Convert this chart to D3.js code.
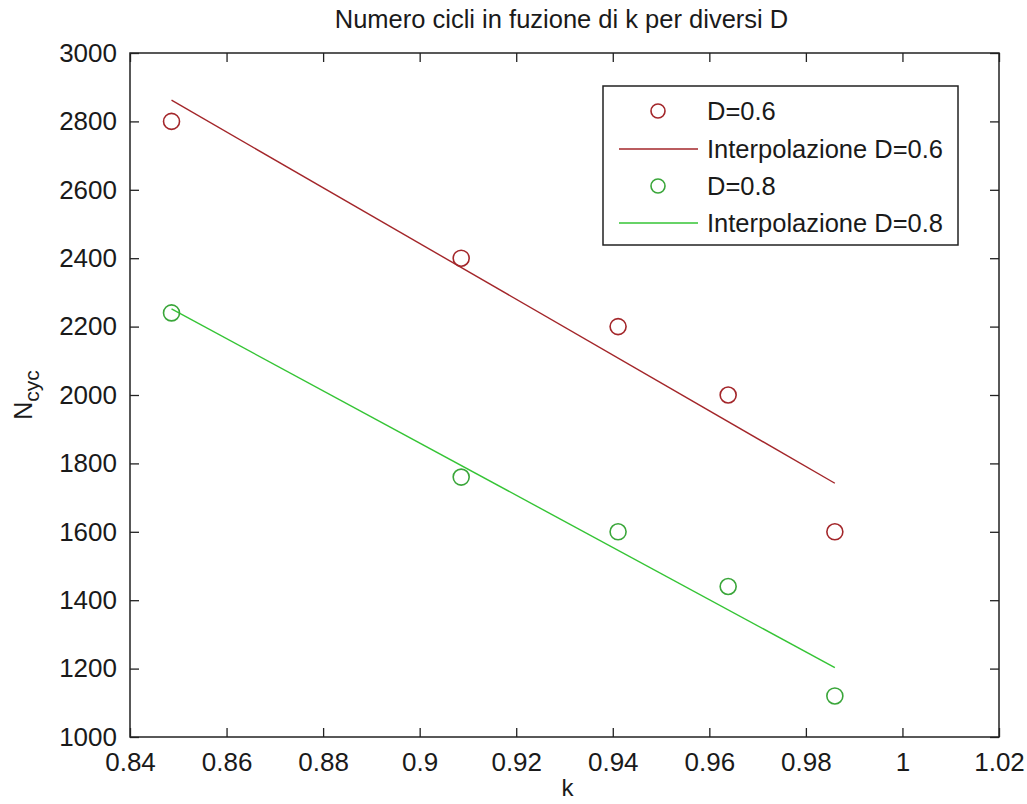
<!DOCTYPE html>
<html>
<head>
<meta charset="utf-8">
<script src="https://cdn.jsdelivr.net/npm/d3@7"></script>
<style>
  html, body { margin: 0; padding: 0; background: #fff; }
  svg { display: block; }
  text { font-family: "Liberation Sans", Arial, sans-serif; fill: #1a1a1a; }
</style>
</head>
<body>
<svg id="chart" width="1027" height="804"></svg>
<script>
// Measured cycle counts versus k for two values of D
const kValues = [0.8486, 0.9086, 0.9411, 0.9639, 0.9860];
const cyclesD06 = [2800, 2400, 2200, 2000, 1600];
const cyclesD08 = [2240, 1760, 1600, 1440, 1120];

// Linear interpolation lines: values at the first and last k
const fitK = [0.8486, 0.9860];
const fitD06 = [2862, 1742];
const fitD08 = [2252, 1203];

const xTicks = [0.84, 0.86, 0.88, 0.9, 0.92, 0.94, 0.96, 0.98, 1, 1.02];
const yTicks = [1000, 1200, 1400, 1600, 1800, 2000, 2200, 2400, 2600, 2800, 3000];

const legendLabels = ["D=0.6", "Interpolazione D=0.6", "D=0.8", "Interpolazione D=0.8"];

const red = "#a3262a";
const green = "#35c435";
const greenMarker = "#3aa63a";

const svg = d3.select("#chart");
const plotLeft = 130, plotRight = 999, plotTop = 53, plotBottom = 737;

const x = d3.scaleLinear().domain([0.84, 1.02]).range([plotLeft, plotRight]);
const y = d3.scaleLinear().domain([1000, 3000]).range([plotBottom, plotTop]);

const axisColor = "#222";
const tickLen = 9;
const fmtX = d => String(+d.toFixed(2));

// Frame
svg.append("rect")
  .attr("x", plotLeft).attr("y", plotTop)
  .attr("width", plotRight - plotLeft).attr("height", plotBottom - plotTop)
  .attr("fill", "#fff").attr("stroke", axisColor).attr("stroke-width", 1.5);

// Bottom axis with labels, inward ticks
const xAxis = d3.axisBottom(x).tickValues(xTicks).tickFormat(fmtX)
  .tickSizeInner(-tickLen).tickSizeOuter(0).tickPadding(16);
const gx = svg.append("g").attr("transform", `translate(0,${plotBottom})`).call(xAxis);
gx.select(".domain").remove();
gx.selectAll("line").attr("stroke", axisColor).attr("stroke-width", 1.3);
gx.selectAll("text").attr("font-size", 26).style("fill", "#1a1a1a")
  .attr("font-family", '"Liberation Sans", Arial, sans-serif');

// Top mirrored ticks
const gxt = svg.append("g").attr("transform", `translate(0,${plotTop})`)
  .call(d3.axisTop(x).tickValues(xTicks).tickFormat("").tickSizeInner(-tickLen).tickSizeOuter(0));
gxt.select(".domain").remove();
gxt.selectAll("line").attr("stroke", axisColor).attr("stroke-width", 1.3);

// Left axis with labels
const yAxis = d3.axisLeft(y).tickValues(yTicks).tickFormat(d3.format("d"))
  .tickSizeInner(-tickLen).tickSizeOuter(0).tickPadding(13);
const gy = svg.append("g").attr("transform", `translate(${plotLeft},0)`).call(yAxis);
gy.select(".domain").remove();
gy.selectAll("line").attr("stroke", axisColor).attr("stroke-width", 1.3);
gy.selectAll("text").attr("font-size", 26).style("fill", "#1a1a1a")
  .attr("font-family", '"Liberation Sans", Arial, sans-serif');

// Right mirrored ticks
const gyr = svg.append("g").attr("transform", `translate(${plotRight},0)`)
  .call(d3.axisRight(y).tickValues(yTicks).tickFormat("").tickSizeInner(-tickLen).tickSizeOuter(0));
gyr.select(".domain").remove();
gyr.selectAll("line").attr("stroke", axisColor).attr("stroke-width", 1.3);

// Fit lines
const line = d3.line().x(d => x(d[0])).y(d => y(d[1]));
svg.append("path").datum(d3.zip(fitK, fitD06))
  .attr("d", line).attr("fill", "none").attr("stroke", red).attr("stroke-width", 1.4);
svg.append("path").datum(d3.zip(fitK, fitD08))
  .attr("d", line).attr("fill", "none").attr("stroke", green).attr("stroke-width", 1.4);

// Data markers
function markers(vals, color) {
  svg.append("g").selectAll("circle").data(d3.zip(kValues, vals)).join("circle")
    .attr("cx", d => x(d[0])).attr("cy", d => y(d[1])).attr("r", 8)
    .attr("fill", "none").attr("stroke", color).attr("stroke-width", 1.6);
}
markers(cyclesD06, red);
markers(cyclesD08, greenMarker);

// Title and axis labels
svg.append("text").attr("x", (plotLeft + plotRight) / 2 - 3).attr("y", 28)
  .attr("text-anchor", "middle").attr("font-size", 25.5)
  .text("Numero cicli in fuzione di k per diversi D");

svg.append("text").attr("x", (plotLeft + plotRight) / 2 + 3).attr("y", 796)
  .attr("text-anchor", "middle").attr("font-size", 24).text("k");

const ylab = svg.append("text")
  .attr("transform", `translate(32,${(plotTop + plotBottom) / 2}) rotate(-90)`)
  .attr("text-anchor", "middle").attr("font-size", 25);
ylab.append("tspan").text("N");
ylab.append("tspan").attr("dy", 7).attr("font-size", 21).text("cyc");

// Legend
const lg = svg.append("g");
lg.append("rect").attr("x", 603).attr("y", 86).attr("width", 355).attr("height", 159)
  .attr("fill", "#fff").attr("stroke", axisColor).attr("stroke-width", 1.5);
const rowY = [111, 149, 186, 223];
const styles = [
  { type: "marker", color: red },
  { type: "line", color: red },
  { type: "marker", color: greenMarker },
  { type: "line", color: green }
];
legendLabels.forEach((lab, i) => {
  const s = styles[i];
  if (s.type === "marker") {
    lg.append("circle").attr("cx", 658).attr("cy", rowY[i]).attr("r", 7)
      .attr("fill", "none").attr("stroke", s.color).attr("stroke-width", 1.6);
  } else {
    lg.append("line").attr("x1", 619).attr("x2", 698).attr("y1", rowY[i]).attr("y2", rowY[i])
      .attr("stroke", s.color).attr("stroke-width", 1.4);
  }
  lg.append("text").attr("x", 707).attr("y", rowY[i]).attr("dy", "0.36em")
    .attr("font-size", 25.5).text(lab);
});
</script>
</body>
</html>
